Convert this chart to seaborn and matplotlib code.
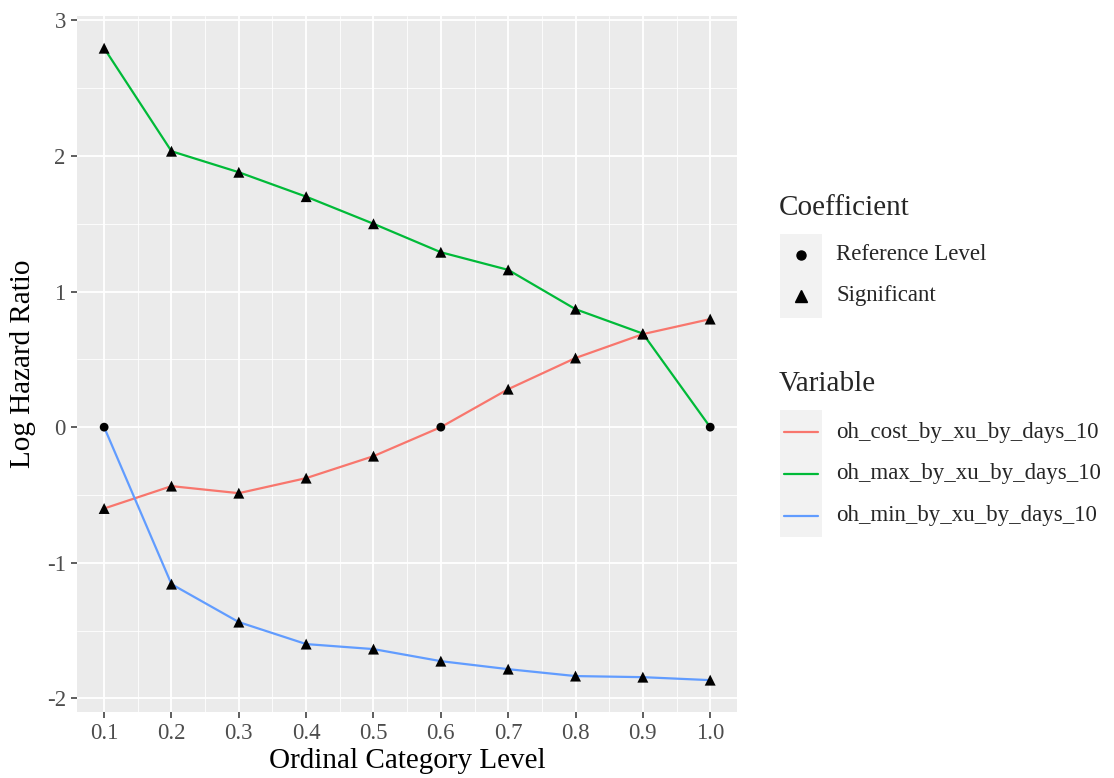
import matplotlib
matplotlib.use("Agg")
import matplotlib.pyplot as plt
from matplotlib.lines import Line2D
from matplotlib.patches import Rectangle
from matplotlib.ticker import MultipleLocator
import seaborn as sns
import pandas as pd

levels = [0.1, 0.2, 0.3, 0.4, 0.5, 0.6, 0.7, 0.8, 0.9, 1.0]
variables = ["oh_cost_by_xu_by_days_10", "oh_max_by_xu_by_days_10", "oh_min_by_xu_by_days_10"]
cost_vals = [-0.60, -0.435, -0.487, -0.376, -0.214, 0.0, 0.28, 0.51, 0.686, 0.797]
max_vals = [2.795, 2.035, 1.88, 1.70, 1.50, 1.29, 1.16, 0.87, 0.69, 0.0]
min_vals = [0.0, -1.158, -1.438, -1.60, -1.637, -1.726, -1.785, -1.836, -1.844, -1.866]
cost_coef = ["Significant"] * 5 + ["Reference Level"] + ["Significant"] * 4
max_coef = ["Significant"] * 9 + ["Reference Level"]
min_coef = ["Reference Level"] + ["Significant"] * 9
colors = ["#F8766D", "#00BA38", "#619CFF"]
x_ticks = [0.1, 0.2, 0.3, 0.4, 0.5, 0.6, 0.7, 0.8, 0.9, 1.0]
x_ticklabels = ["0.1", "0.2", "0.3", "0.4", "0.5", "0.6", "0.7", "0.8", "0.9", "1.0"]
y_ticks = [-2, -1, 0, 1, 2, 3]
y_ticklabels = ["-2", "-1", "0", "1", "2", "3"]

rows = []
for var, vals, coefs in zip(variables, [cost_vals, max_vals, min_vals], [cost_coef, max_coef, min_coef]):
    for lv, v, c in zip(levels, vals, coefs):
        rows.append({"level": lv, "value": v, "Variable": var, "Coefficient": c})
df = pd.DataFrame(rows)

sns.set_theme(style="darkgrid")
plt.rcParams["font.family"] = ["Liberation Serif", "DejaVu Serif"]

fig = plt.figure(figsize=(11.14, 7.78), dpi=100)
ax = fig.add_axes([0.069, 0.085, 0.593, 0.894])
ax.set_facecolor("#EBEBEB")

sns.lineplot(data=df, x="level", y="value", hue="Variable", palette=colors,
             linewidth=1.6, ax=ax, legend=False, zorder=3)
sns.scatterplot(data=df, x="level", y="value", style="Coefficient", size="Coefficient",
                markers={"Reference Level": "o", "Significant": "^"},
                sizes={"Reference Level": 40, "Significant": 62},
                color="black", edgecolor="none", ax=ax, legend=False, zorder=4)

ax.set_xlim(0.0595, 1.0405)
ax.set_ylim(-2.1, 3.03)
ax.set_xticks(x_ticks)
ax.set_xticklabels(x_ticklabels)
ax.set_yticks(y_ticks)
ax.set_yticklabels(y_ticklabels)
ax.xaxis.set_minor_locator(MultipleLocator(0.05))
ax.yaxis.set_minor_locator(MultipleLocator(0.5))
ax.grid(which="major", color="white", linewidth=1.3)
ax.grid(which="minor", color="white", linewidth=0.6)
ax.set_axisbelow(True)
for s in ax.spines.values():
    s.set_visible(False)
ax.tick_params(axis="both", which="major", length=4, width=1.1, color="#333333",
               labelsize=16.5, labelcolor="#4D4D4D", pad=4, bottom=True, left=True)
ax.tick_params(axis="both", which="minor", length=0)
ax.set_xlabel("Ordinal Category Level", fontsize=21, color="black", labelpad=3)
ax.set_ylabel("Log Hazard Ratio", fontsize=21, color="black", labelpad=8)

W, H = 1114, 778
def fx(px):
    return px / W
def fy(py):
    return 1 - py / H

# Coefficient legend
fig.text(fx(779), fy(208), "Coefficient", fontsize=21, va="center", ha="left")
fig.patches.append(Rectangle((fx(780), fy(318)), fx(42), (318 - 234) / H,
                             transform=fig.transFigure, facecolor="#F2F2F2", edgecolor="none"))
fig.lines.append(Line2D([fx(801)], [fy(255)], marker="o", color="black", markersize=6.5,
                        linestyle="none", transform=fig.transFigure))
fig.text(fx(836), fy(255), "Reference Level", fontsize=16.5, va="center", ha="left")
fig.lines.append(Line2D([fx(801)], [fy(296)], marker="^", color="black", markersize=8,
                        linestyle="none", transform=fig.transFigure))
fig.text(fx(836), fy(296), "Significant", fontsize=16.5, va="center", ha="left")

# Variable legend
fig.text(fx(779), fy(384), "Variable", fontsize=21, va="center", ha="left")
fig.patches.append(Rectangle((fx(780), fy(537)), fx(42), (537 - 410) / H,
                             transform=fig.transFigure, facecolor="#F2F2F2", edgecolor="none"))
for i, (var, col) in enumerate(zip(variables, colors)):
    yy = 432 + i * 42
    fig.lines.append(Line2D([fx(784), fx(818)], [fy(yy), fy(yy)], color=col, linewidth=1.6,
                            transform=fig.transFigure))
    fig.text(fx(836), fy(yy), var, fontsize=16.5, va="center", ha="left")

fig.savefig("out.png", dpi=100, facecolor="white")
